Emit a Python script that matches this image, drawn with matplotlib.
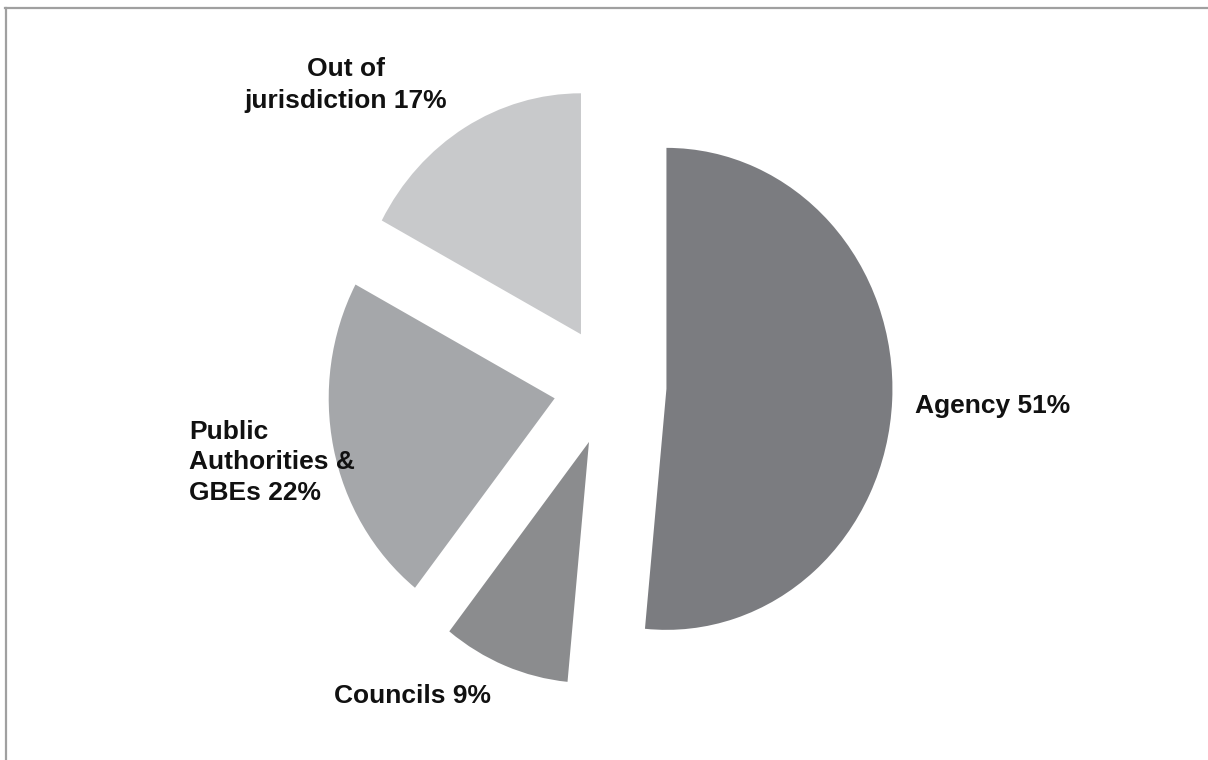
import matplotlib
matplotlib.use("Agg")
import matplotlib.pyplot as plt
from matplotlib.lines import Line2D

categories = ["Agency", "Councils", "Public Authorities & GBEs", "Out of jurisdiction"]
values = [51, 9, 22, 17]
colors = ["#7b7c80", "#8b8c8e", "#a5a7aa", "#c8c9cb"]
label_texts = ["Agency 51%", "Councils 9%", "Public\nAuthorities &\nGBEs 22%", "Out of\njurisdiction 17%"]

W, H = 1208, 760
fig = plt.figure(figsize=(W / 100, H / 100), dpi=100)
ax = fig.add_axes([0, 0, 1, 1])

ax.pie(values, colors=colors, startangle=90, counterclock=False,
       explode=[0.25] * len(values), radius=1.0,
       wedgeprops=dict(linewidth=0))
ax.set_aspect("auto")
cx, cy, rx, ry = 610, 386, 226, 241
ax.set_xlim(-cx / rx, (W - cx) / rx)
ax.set_ylim(-(H - cy) / ry, cy / ry)
ax.axis("off")

font = dict(family=["Liberation Sans", "DejaVu Sans"], fontsize=19, fontweight="bold", color="#111111")

def fx(x):
    return x / W

def fy(y):
    return 1 - y / H

fig.text(fx(915), fy(413), label_texts[0], ha="left", va="baseline", **font)
fig.text(fx(412), fy(703), label_texts[1], ha="center", va="baseline", **font)
fig.text(fx(189), fy(500), label_texts[2], ha="left", va="baseline", multialignment="left", linespacing=1.35, **font)
fig.text(fx(346), fy(108), label_texts[3], ha="center", va="baseline", multialignment="center", linespacing=1.4, **font)

# frame lines (top and left)
fig.add_artist(Line2D([fx(5), 1], [fy(8), fy(8)], color="#a0a0a0", linewidth=1.6, transform=fig.transFigure))
fig.add_artist(Line2D([fx(6), fx(6)], [fy(8), 0], color="#a0a0a0", linewidth=1.6, transform=fig.transFigure))

fig.savefig("out.png", dpi=100, facecolor="white")
